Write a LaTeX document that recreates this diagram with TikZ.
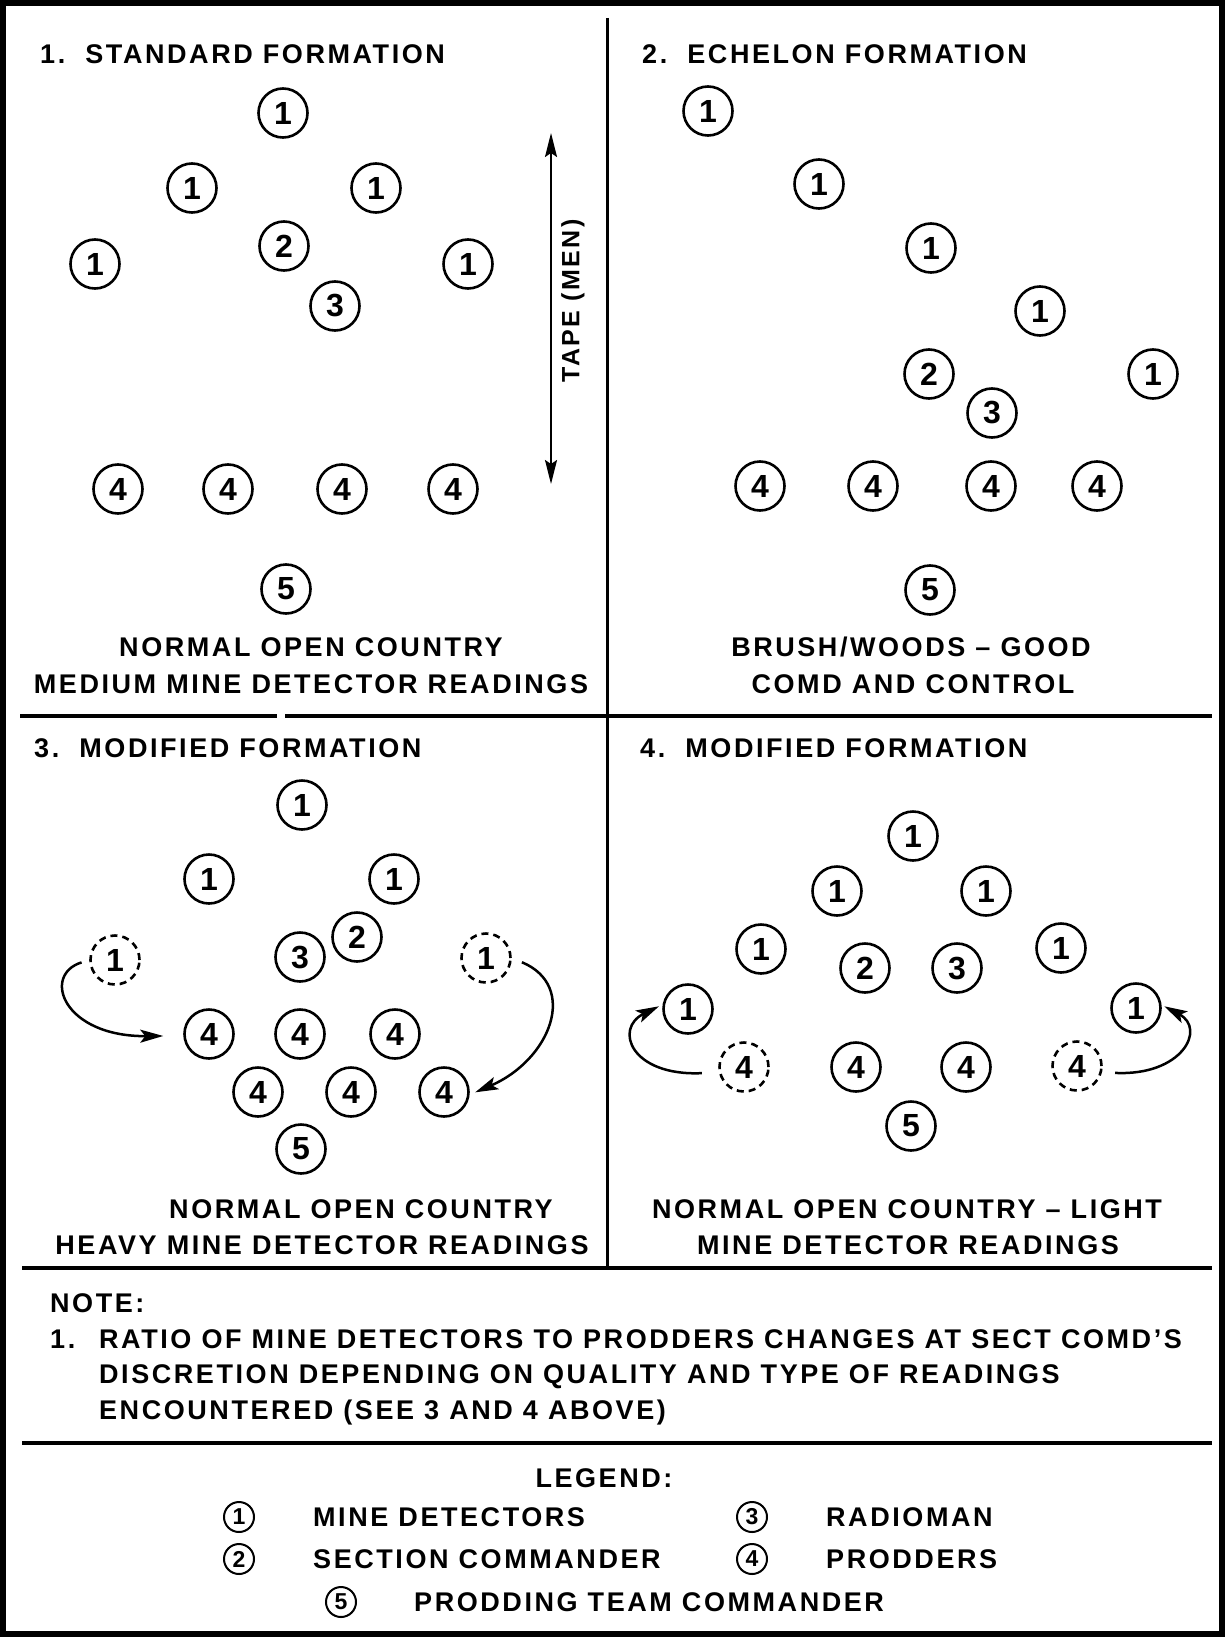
\documentclass[tikz,border=0pt]{standalone}
\usepackage{fontspec}
\setmainfont{Liberation Sans}[LetterSpace=9.5]
\usetikzlibrary{arrows.meta}

\begin{document}
\begin{tikzpicture}[x=1pt, y=-1pt,
	soldier/.style={circle, draw, line width=2.6pt, minimum size=49pt, inner sep=0pt, font=\fontsize{32}{32}\selectfont\bfseries},
	spare/.style={soldier, dash pattern=on 7pt off 5pt},
	legendkey/.style={circle, draw, line width=2pt, minimum size=30pt, inner sep=0pt, font=\fontsize{23}{23}\selectfont\bfseries},
	txt/.style={inner sep=0pt, font=\fontsize{27}{30}\selectfont\bfseries},
	rule/.style={line width=3.5pt},
	swing/.style={line width=2.5pt, -{Stealth[length=23pt, width=13pt, inset=5pt]}}
	]

	\useasboundingbox (0,0) rectangle (1225,1637);

	\draw[line width=6pt] (3,3) rectangle (1222,1634);
	\draw[line width=3pt] (607,18) -- (607,1268);
	\draw[rule] (20,716) -- (277,716);
	\draw[rule] (285,716) -- (1212,716);
	\draw[rule] (22,1268) -- (1212,1268);
	\draw[rule] (22,1443) -- (1212,1443);

	\node[txt, anchor=base west] (T1) at (40,64) {1.\ \ STANDARD FORMATION};
	\node[txt, anchor=base west] (T2) at (642,64) {2.\ \ ECHELON FORMATION};
	\node[txt, anchor=base west] (T3) at (34,757) {3.\ \ MODIFIED FORMATION};
	\node[txt, anchor=base west] (T4) at (640,757) {4.\ \ MODIFIED FORMATION};

	\node[soldier] (A1) at (283,113) {1};
	\node[soldier] (A2) at (192,188) {1};
	\node[soldier] (A3) at (376,188) {1};
	\node[soldier] (A4) at (95,264) {1};
	\node[soldier] (A5) at (468,264) {1};
	\node[soldier] (A6) at (284,246) {2};
	\node[soldier] (A7) at (335,306) {3};
	\node[soldier] (A8) at (118,489) {4};
	\node[soldier] (A9) at (228,489) {4};
	\node[soldier] (A10) at (342,489) {4};
	\node[soldier] (A11) at (453,489) {4};
	\node[soldier] (A12) at (286,589) {5};

	\coordinate (TT) at (551,133);
	\coordinate (TB) at (551,484);
	\draw[line width=2pt, {Stealth[length=24pt, width=12pt, inset=4pt]}-{Stealth[length=24pt, width=12pt, inset=4pt]}] (TT) -- (TB);
	\node[txt, rotate=90, font=\fontsize{25}{25}\selectfont\bfseries] (TM) at (573,301) {TAPE (MEN)};

	\node[txt, anchor=base] (N1a) at (311,656) {NORMAL OPEN COUNTRY};
	\node[txt, anchor=base] (N1b) at (311,693) {MEDIUM MINE DETECTOR READINGS};

	\node[soldier] (B1) at (708,111) {1};
	\node[soldier] (B2) at (819,184) {1};
	\node[soldier] (B3) at (931,248) {1};
	\node[soldier] (B4) at (1040,311) {1};
	\node[soldier] (B5) at (1153,374) {1};
	\node[soldier] (B6) at (929,374) {2};
	\node[soldier] (B7) at (992,413) {3};
	\node[soldier] (B8) at (760,486) {4};
	\node[soldier] (B9) at (873,486) {4};
	\node[soldier] (B10) at (991,486) {4};
	\node[soldier] (B11) at (1097,486) {4};
	\node[soldier] (B12) at (930,590) {5};

	\node[txt, anchor=base] (N2a) at (911,656) {BRUSH/WOODS -- GOOD};
	\node[txt, anchor=base] (N2b) at (913,693) {COMD AND CONTROL};

	\node[soldier] (C1) at (302,805) {1};
	\node[soldier] (C2) at (209,879) {1};
	\node[soldier] (C3) at (394,879) {1};
	\node[soldier] (C4) at (357,937) {2};
	\node[soldier] (C5) at (300,957) {3};
	\node[spare] (C6) at (115,960) {1};
	\node[spare] (C7) at (486,958) {1};
	\node[soldier] (C8) at (209,1034) {4};
	\node[soldier] (C9) at (300,1034) {4};
	\node[soldier] (C10) at (395,1034) {4};
	\node[soldier] (C11) at (258,1092) {4};
	\node[soldier] (C12) at (351,1092) {4};
	\node[soldier] (C13) at (444,1092) {4};
	\node[soldier] (C14) at (301,1149) {5};

	\draw[swing, shorten <=8pt, shorten >=20pt] (C6.west) .. controls +(-48,15) and +(-120,1) .. (C8.184);
	\draw[swing, shorten <=11pt, shorten >=6pt] (C7.east) .. controls +(67,28) and +(81,-35) .. (C13.354);

	\node[txt, anchor=base] (N3a) at (361,1218) {NORMAL OPEN COUNTRY};
	\node[txt, anchor=base] (N3b) at (322,1254) {HEAVY MINE DETECTOR READINGS};

	\node[soldier] (D1) at (913,836) {1};
	\node[soldier] (D2) at (837,891) {1};
	\node[soldier] (D3) at (986,891) {1};
	\node[soldier] (D4) at (761,949) {1};
	\node[soldier] (D5) at (1061,948) {1};
	\node[soldier] (D6) at (865,968) {2};
	\node[soldier] (D7) at (957,968) {3};
	\node[soldier] (D8) at (688,1009) {1};
	\node[soldier] (D9) at (1136,1008) {1};
	\node[spare] (D10) at (744,1067) {4};
	\node[soldier] (D11) at (856,1067) {4};
	\node[soldier] (D12) at (966,1067) {4};
	\node[spare] (D13) at (1077,1066) {4};
	\node[soldier] (D14) at (911,1126) {5};

	\draw[swing, shorten <=17pt, shorten >=4pt] (D10.192) .. controls +(-88,4) and +(-49,24) .. (D8.170);
	\draw[swing, shorten <=13pt, shorten >=3pt] (D13.346) .. controls +(80,4) and +(45,24) .. (D9.7);

	\node[txt, anchor=base] (N4a) at (907,1218) {NORMAL OPEN COUNTRY -- LIGHT};
	\node[txt, anchor=base] (N4b) at (908,1254) {MINE DETECTOR READINGS};

	\node[txt, anchor=base west] (NT) at (50,1312) {NOTE:};
	\node[txt, anchor=base west] (NT1) at (50,1348) {1.};
	\node[txt, anchor=base west] (NL1) at (99,1348) {RATIO OF MINE DETECTORS TO PRODDERS CHANGES AT SECT COMD'S};
	\node[txt, anchor=base west] (NL2) at (99,1383) {DISCRETION DEPENDING ON QUALITY AND TYPE OF READINGS};
	\node[txt, anchor=base west] (NL3) at (99,1419) {ENCOUNTERED (SEE 3 AND 4 ABOVE)};

	\node[txt, anchor=base] (LG) at (604,1487) {LEGEND:};
	\node[legendkey] (L1) at (239,1517) {1};
	\node[txt, anchor=base west] (L1t) at (313,1526) {MINE DETECTORS};
	\node[legendkey] (L2) at (239,1559) {2};
	\node[txt, anchor=base west] (L2t) at (313,1568) {SECTION COMMANDER};
	\node[legendkey] (L3) at (752,1517) {3};
	\node[txt, anchor=base west] (L3t) at (826,1526) {RADIOMAN};
	\node[legendkey] (L4) at (752,1559) {4};
	\node[txt, anchor=base west] (L4t) at (826,1568) {PRODDERS};
	\node[legendkey] (L5) at (341,1602) {5};
	\node[txt, anchor=base west] (L5t) at (414,1611) {PRODDING TEAM COMMANDER};

\end{tikzpicture}
\end{document}
